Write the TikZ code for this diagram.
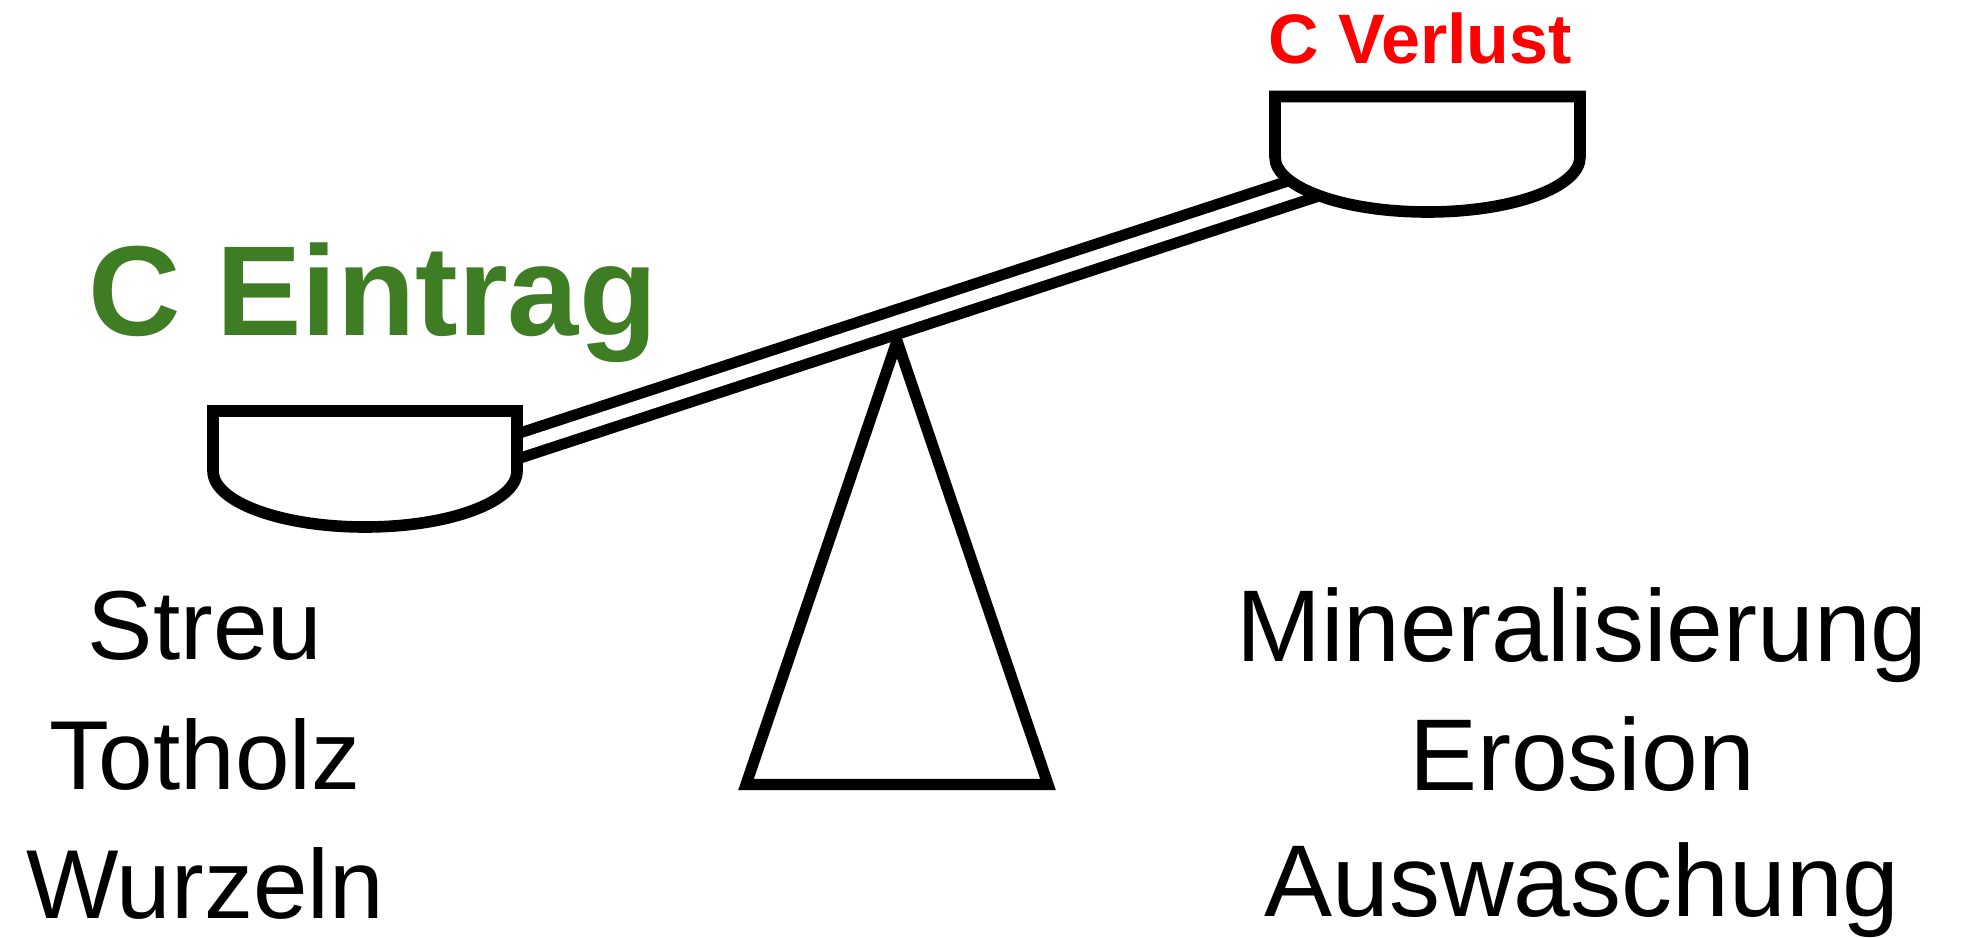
\documentclass[tikz,border=0pt]{standalone}
\usepackage{fontspec}
\setmainfont{Liberation Sans}
\definecolor{eingreen}{RGB}{62,125,36}
\definecolor{verred}{RGB}{255,0,0}
\begin{document}
\begin{tikzpicture}[x=0.5pt,y=-0.5pt,
  pan/.style={draw=black,line width=5.8pt,fill=white,line join=miter},
  beam/.style={draw=black,line width=5.5pt,double=white,double distance=6.4pt},
  stand/.style={draw=black,line width=5.6pt,fill=white,line join=miter},
  title/.style={inner sep=0pt,anchor=base west},
  item/.style={inner sep=0pt,anchor=base}]
\useasboundingbox (0,0) rectangle (1962,937);
\fill[white] (0,0) rectangle (1962,937);

% stand
\draw[stand] (897,341) -- (1048,784.5) -- (746,784.5) -- cycle;

% beam
\coordinate (bl) at (517,446.5);
\coordinate (br) at (1340,176.6);
\draw[beam] (bl) -- (br);

% left pan
\draw[pan] (213,411) -- (213,471)
  .. controls (213,501.9) and (281.1,527) .. (365,527)
  .. controls (448.9,527) and (517,501.9) .. (517,471)
  -- (517,411) -- cycle;
% right pan
\draw[pan] (1275,96.5) -- (1275,157)
  .. controls (1275,187.4) and (1343.3,212) .. (1427.5,212)
  .. controls (1511.7,212) and (1580,187.4) .. (1580,157)
  -- (1580,96.5) -- cycle;

% titles
\node[title,text=eingreen,font=\bfseries\fontsize{64}{70}\selectfont] (ein) at (88,335) {C Eintrag};
\node[title,text=verred,font=\bfseries\fontsize{35}{40}\selectfont] (ver) at (1268,63) {C Verlust};

% left list
\node[item,font=\fontsize{49}{55}\selectfont] (streu) at (205,659) {Streu};
\node[item,font=\fontsize{49}{55}\selectfont] (tot) at (205,789) {Totholz};
\node[item,font=\fontsize{49}{55}\selectfont] (wur) at (205,918) {Wurzeln};

% right list
\node[item,font=\fontsize{51}{57}\selectfont] (min) at (1582,661) {Mineralisierung};
\node[item,font=\fontsize{51}{57}\selectfont] (ero) at (1582,790) {Erosion};
\node[item,font=\fontsize{51}{57}\selectfont] (aus) at (1582,916) {Auswaschung};
\end{tikzpicture}
\end{document}
